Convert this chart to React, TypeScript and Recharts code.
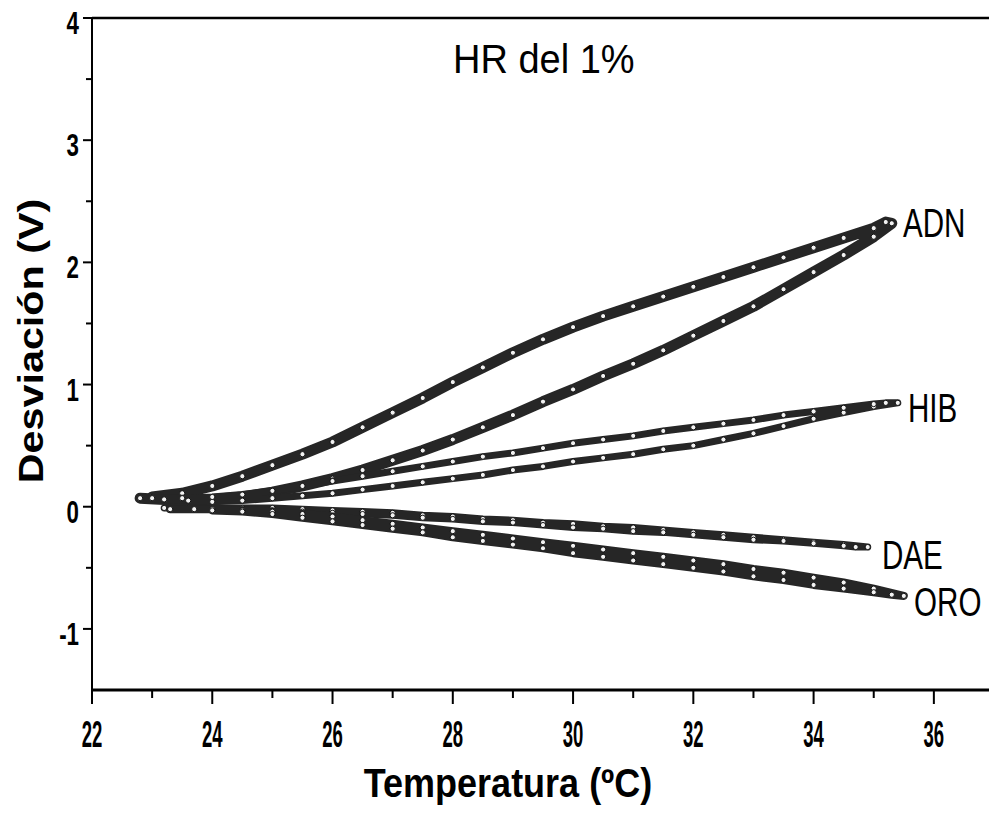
import { ReferenceLine, Scatter, ScatterChart, XAxis, YAxis } from "recharts";

// ADN: calentamiento (rama inferior) y enfriamiento (rama superior)
const ADN_HEAT_T = [22.8, 23.2, 23.6, 24.0, 24.5, 25.0, 25.5, 26.0, 26.5, 27.0, 27.5, 28.0, 28.5, 29.0, 29.5, 30.0, 30.5, 31.0, 31.5, 32.0, 32.5, 33.0, 33.5, 34.0, 34.5, 35.0, 35.3];
const ADN_HEAT_V = [0.07, 0.06, 0.05, 0.06, 0.08, 0.12, 0.17, 0.23, 0.3, 0.38, 0.46, 0.55, 0.65, 0.75, 0.86, 0.96, 1.07, 1.17, 1.28, 1.4, 1.52, 1.64, 1.78, 1.92, 2.06, 2.21, 2.32];
const ADN_COOL_T = [35.2, 35.0, 34.5, 34.0, 33.5, 33.0, 32.5, 32.0, 31.5, 31.0, 30.5, 30.0, 29.5, 29.0, 28.5, 28.0, 27.5, 27.0, 26.5, 26.0, 25.5, 25.0, 24.5, 24.0, 23.5, 23.0];
const ADN_COOL_V = [2.33, 2.28, 2.2, 2.12, 2.04, 1.96, 1.88, 1.8, 1.72, 1.64, 1.56, 1.47, 1.37, 1.26, 1.14, 1.02, 0.89, 0.77, 0.65, 0.53, 0.43, 0.34, 0.25, 0.17, 0.11, 0.08];

const HIB_HEAT_T = [22.8, 23.2, 23.6, 24.0, 24.5, 25.0, 25.5, 26.0, 26.5, 27.0, 27.5, 28.0, 28.5, 29.0, 29.5, 30.0, 30.5, 31.0, 31.5, 32.0, 32.5, 33.0, 33.5, 34.0, 34.5, 35.0, 35.4];
const HIB_HEAT_V = [0.07, 0.06, 0.05, 0.04, 0.05, 0.07, 0.09, 0.11, 0.14, 0.17, 0.2, 0.23, 0.26, 0.3, 0.33, 0.37, 0.4, 0.43, 0.47, 0.5, 0.55, 0.6, 0.66, 0.72, 0.77, 0.82, 0.85];
const HIB_COOL_T = [35.2, 35.0, 34.5, 34.0, 33.5, 33.0, 32.5, 32.0, 31.5, 31.0, 30.5, 30.0, 29.5, 29.0, 28.5, 28.0, 27.5, 27.0, 26.5, 26.0, 25.5, 25.0, 24.5, 24.0, 23.5, 23.0];
const HIB_COOL_V = [0.85, 0.84, 0.81, 0.78, 0.75, 0.71, 0.68, 0.65, 0.62, 0.58, 0.55, 0.52, 0.48, 0.44, 0.41, 0.37, 0.33, 0.29, 0.25, 0.21, 0.17, 0.13, 0.1, 0.08, 0.07, 0.07];

const DAE_HEAT_T = [23.2, 23.6, 24.0, 24.5, 25.0, 25.5, 26.0, 26.5, 27.0, 27.5, 28.0, 28.5, 29.0, 29.5, 30.0, 30.5, 31.0, 31.5, 32.0, 32.5, 33.0, 33.5, 34.0, 34.5, 34.9];
const DAE_HEAT_V = [-0.01, -0.01, -0.01, -0.01, -0.01, -0.02, -0.03, -0.04, -0.05, -0.07, -0.08, -0.1, -0.11, -0.13, -0.14, -0.16, -0.17, -0.19, -0.21, -0.23, -0.25, -0.27, -0.29, -0.31, -0.33];
const DAE_COOL_T = [34.7, 34.5, 34.0, 33.5, 33.0, 32.5, 32.0, 31.5, 31.0, 30.5, 30.0, 29.5, 29.0, 28.5, 28.0, 27.5, 27.0, 26.5, 26.0, 25.5, 25.0, 24.5, 24.0, 23.5];
const DAE_COOL_V = [-0.33, -0.32, -0.3, -0.28, -0.27, -0.25, -0.23, -0.21, -0.2, -0.18, -0.17, -0.15, -0.13, -0.12, -0.1, -0.09, -0.07, -0.06, -0.05, -0.04, -0.03, -0.02, -0.02, -0.02];

const ORO_HEAT_T = [23.3, 23.7, 24.0, 24.5, 25.0, 25.5, 26.0, 26.5, 27.0, 27.5, 28.0, 28.5, 29.0, 29.5, 30.0, 30.5, 31.0, 31.5, 32.0, 32.5, 33.0, 33.5, 34.0, 34.5, 35.0, 35.5];
const ORO_HEAT_V = [-0.02, -0.02, -0.02, -0.03, -0.04, -0.06, -0.08, -0.11, -0.14, -0.17, -0.2, -0.23, -0.26, -0.29, -0.32, -0.35, -0.38, -0.41, -0.44, -0.47, -0.51, -0.54, -0.58, -0.62, -0.67, -0.73];
const ORO_COOL_T = [35.3, 35.0, 34.5, 34.0, 33.5, 33.0, 32.5, 32.0, 31.5, 31.0, 30.5, 30.0, 29.5, 29.0, 28.5, 28.0, 27.5, 27.0, 26.5, 26.0, 25.5, 25.0, 24.5, 24.0];
const ORO_COOL_V = [-0.72, -0.7, -0.67, -0.64, -0.6, -0.57, -0.53, -0.5, -0.47, -0.44, -0.41, -0.38, -0.34, -0.31, -0.28, -0.25, -0.21, -0.18, -0.15, -0.12, -0.09, -0.06, -0.04, -0.03];

const X_TICKS = [22, 23, 24, 25, 26, 27, 28, 29, 30, 31, 32, 33, 34, 35, 36, 37];
const Y_TICKS = [-1.5, -1, -0.5, 0, 0.5, 1, 1.5, 2, 2.5, 3, 3.5, 4];

const FONT = '"Liberation Sans", Arial, sans-serif';

const loop = (t1: number[], v1: number[], t2: number[], v2: number[]) => [
  ...t1.map((x, i) => ({ x, y: v1[i] })),
  ...t2.map((x, i) => ({ x, y: v2[i] })),
];

const series = [
  { name: "ADN", data: loop(ADN_HEAT_T, ADN_HEAT_V, ADN_COOL_T, ADN_COOL_V), band: 11 },
  { name: "HIB", data: loop(HIB_HEAT_T, HIB_HEAT_V, HIB_COOL_T, HIB_COOL_V), band: 7 },
  { name: "DAE", data: loop(DAE_HEAT_T, DAE_HEAT_V, DAE_COOL_T, DAE_COOL_V), band: 7 },
  { name: "ORO", data: loop(ORO_HEAT_T, ORO_HEAT_V, ORO_COOL_T, ORO_COOL_V), band: 8 },
];

const Dot = (p: any) => (
  <circle cx={p.cx} cy={p.cy} r={2.6} fill="#f2f2f2" stroke="#111" strokeWidth={1} />
);

function XTick({ x, y, payload }: any) {
  const v = payload.value;
  if (v === 37) return null;
  const major = v % 2 === 0;
  return (
    <g>
      <line x1={x} x2={x} y1={y} y2={y + (major ? 14 : 8)} stroke="#000" strokeWidth={2} />
      {major && (
        <text
          transform={`translate(${x},${y + 57}) scale(0.5,1)`}
          textAnchor="middle"
          fontFamily={FONT}
          fontWeight="bold"
          fontSize={37}
          fill="#000"
        >
          {v}
        </text>
      )}
    </g>
  );
}

function YTick({ x, y, payload }: any) {
  const v = payload.value;
  if (v <= -1.5) return null;
  const major = Number.isInteger(v);
  return (
    <g>
      <line x1={x - (major ? 9 : 6)} x2={x} y1={y} y2={y} stroke="#000" strokeWidth={2} />
      {major && (
        <text
          transform={`translate(${x - 13},${y + 16}) scale(0.72,1)`}
          textAnchor="end"
          fontFamily={FONT}
          fontWeight="bold"
          fontSize={31}
          fill="#000"
        >
          {v}
        </text>
      )}
    </g>
  );
}

const labels = [
  { text: "ADN", x: 895, y: 229 },
  { text: "HIB", x: 900, y: 414 },
  { text: "DAE", x: 874, y: 561 },
  { text: "ORO", x: 906, y: 608 },
];

export default function App() {
  return (
    <div style={{ position: "relative", width: 989, height: 797, background: "#fff" }}>
      <ScatterChart
        width={989}
        height={797}
        margin={{ top: 10, right: 3, bottom: 0, left: 0 }}
        style={{ overflow: "visible" }}
      >
        <XAxis
          type="number"
          dataKey="x"
          domain={[22, 37]}
          ticks={X_TICKS}
          interval={0}
          height={115}
          tickSize={0}
          tickMargin={0}
          tickLine={false}
          axisLine={{ stroke: "#000", strokeWidth: 3 }}
          tick={<XTick />}
          allowDataOverflow
        />
        <YAxis
          type="number"
          dataKey="y"
          domain={[-1.5, 4]}
          ticks={Y_TICKS}
          interval={0}
          width={84}
          tickSize={0}
          tickMargin={0}
          tickLine={false}
          axisLine={{ stroke: "#000", strokeWidth: 2 }}
          tick={<YTick />}
          allowDataOverflow
        />
        <ReferenceLine y={4} stroke="#000" strokeWidth={2.5} />
        <ReferenceLine x={37} stroke="#000" strokeWidth={2} />
        {series.map((s) => (
          <Scatter
            key={s.name}
            name={s.name}
            data={s.data}
            isAnimationActive={false}
            line={{ stroke: "#262626", strokeWidth: s.band, strokeLinejoin: "round", strokeLinecap: "round" }}
            shape={Dot}
          />
        ))}
      </ScatterChart>
      <svg
        width={989}
        height={797}
        style={{ position: "absolute", left: 0, top: 0, pointerEvents: "none", overflow: "visible" }}
      >
        <text transform="translate(445,65) scale(0.95,1)" fontFamily={FONT} fontSize={40} fill="#000">
          HR del 1%
        </text>
        {labels.map((l) => (
          <text
            key={l.text}
            transform={`translate(${l.x},${l.y}) scale(0.74,1)`}
            fontFamily={FONT}
            fontSize={40}
            fill="#000"
          >
            {l.text}
          </text>
        ))}
        <text
          transform="translate(500,789) scale(0.9,1)"
          textAnchor="middle"
          fontFamily={FONT}
          fontWeight="bold"
          fontSize={40}
          fill="#000"
        >
          Temperatura (ºC)
        </text>
        <text
          transform="translate(35,333) rotate(-90) scale(1.18,1)"
          textAnchor="middle"
          fontFamily={FONT}
          fontWeight="bold"
          fontSize={35}
          fill="#000"
        >
          Desviación (V)
        </text>
      </svg>
    </div>
  );
}
